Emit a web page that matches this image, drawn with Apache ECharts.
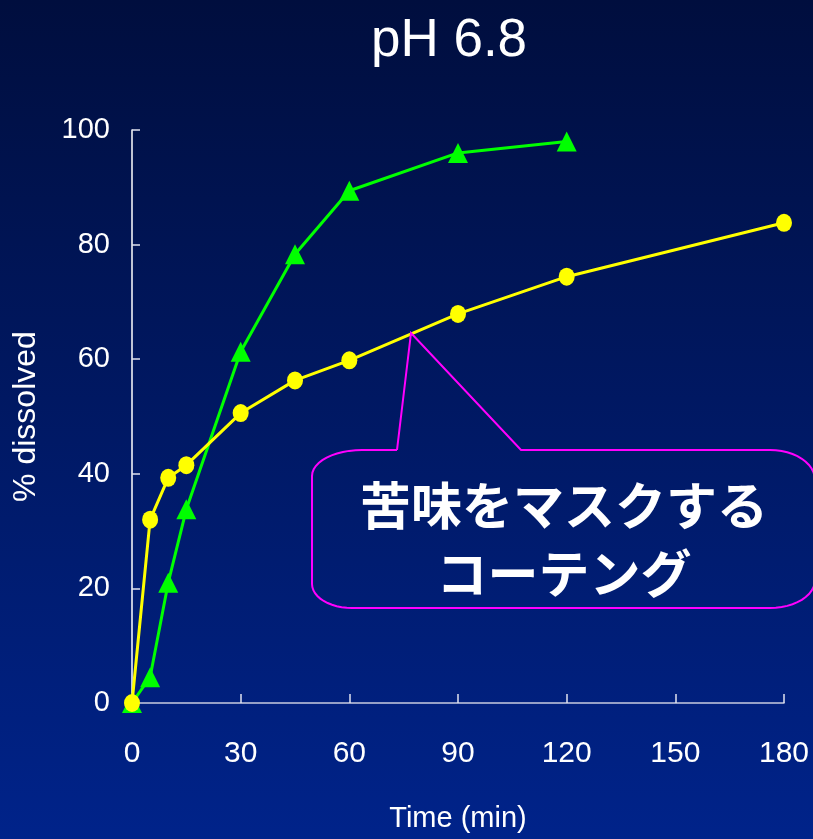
<!DOCTYPE html>
<html>
<head>
<meta charset="utf-8">
<script src="https://cdn.jsdelivr.net/npm/echarts@6/dist/echarts.min.js"></script>
<style>
  html, body { margin: 0; padding: 0; }
  #chart { width: 813px; height: 839px; }
</style>
</head>
<body>
<div id="chart"></div>
<script>
// Dissolution profile at pH 6.8
const timePoints = [0, 5, 10, 15, 30, 45, 60, 90, 120, 180];
const uncoated = [0, 4.5, 21, 33.8, 61.3, 78.3, 89.4, 96, 98];        // green triangles
const coated = [0, 32, 39.3, 41.5, 50.6, 56.3, 59.8, 67.9, 74.4, 83.8]; // yellow circles
const xTicks = [0, 30, 60, 90, 120, 150, 180];
const yTicks = [0, 20, 40, 60, 80, 100];
const calloutLines = ['苦味をマスクする', 'コーテング'];

const pairs = (ys) => ys.map((v, i) => [timePoints[i], v]);

// Quarter-ellipse corner points for the speech-bubble outline
function arc(cx, cy, rx, ry, a0, a1) {
  const pts = [];
  const n = 12;
  for (let i = 0; i <= n; i++) {
    const a = (a0 + (a1 - a0) * i / n) * Math.PI / 180;
    pts.push([cx + rx * Math.cos(a), cy + ry * Math.sin(a)]);
  }
  return pts;
}
const bubble = [
  [397, 450], [411, 333], [521, 450]
].concat(
  arc(770, 480, 45, 30, -90, 0),
  arc(770, 580, 45, 28, 0, 90),
  arc(352, 584, 40, 24, 90, 180),
  arc(362, 476, 50, 26, 180, 270),
  [[397, 450]]
);

const chart = echarts.init(document.getElementById('chart'));
chart.setOption({
  backgroundColor: {
    type: 'linear', x: 0, y: 0, x2: 0, y2: 1,
    colorStops: [
      { offset: 0, color: '#000e3e' },
      { offset: 1, color: '#00238a' }
    ]
  },
  animation: false,
  title: {
    text: 'pH 6.8',
    left: 444, top: 10, textAlign: 'center',
    textStyle: { color: '#ffffff', fontSize: 53, fontWeight: 'normal', fontFamily: 'Liberation Sans' }
  },
  grid: { left: 132, right: 29, top: 130, bottom: 136, containLabel: false, outerBoundsMode: 'none' },
  xAxis: {
    type: 'value', min: xTicks[0], max: xTicks[xTicks.length - 1], interval: 30,
    name: 'Time (min)', nameLocation: 'middle', nameGap: 101,
    nameTextStyle: { color: '#ffffff', fontSize: 29, fontFamily: 'Liberation Sans' },
    axisLine: { show: true, lineStyle: { color: '#c8cbe0', width: 1.5 } },
    axisTick: { show: true, inside: true, length: 9, lineStyle: { color: '#e0e2f0', width: 1.5 } },
    axisLabel: { color: '#ffffff', fontSize: 30, fontFamily: 'Liberation Sans', margin: 36 },
    splitLine: { show: false }
  },
  yAxis: {
    type: 'value', min: yTicks[0], max: yTicks[yTicks.length - 1], interval: 20,
    name: '% dissolved', nameLocation: 'middle', nameGap: 90, nameRotate: 90,
    nameTextStyle: { color: '#ffffff', fontSize: 32, fontFamily: 'Liberation Sans' },
    axisLine: { show: true, lineStyle: { color: '#ffffff', width: 1.5 } },
    axisTick: { show: true, inside: true, length: 8, lineStyle: { color: '#e0e2f0', width: 1.5 } },
    axisLabel: { color: '#ffffff', fontSize: 29, fontFamily: 'Liberation Sans', margin: 22 },
    splitLine: { show: false }
  },
  series: [
    {
      type: 'line', data: pairs(uncoated),
      symbol: 'triangle', symbolSize: 20,
      lineStyle: { color: '#00ff00', width: 3 },
      itemStyle: { color: '#00ff00' },
      z: 2
    },
    {
      type: 'line', data: pairs(coated),
      symbol: 'circle', symbolSize: [16, 18],
      lineStyle: { color: '#ffff00', width: 3 },
      itemStyle: { color: '#ffff00' },
      z: 3
    }
  ],
  graphic: [
    {
      type: 'polyline', z: 10,
      shape: { points: bubble },
      style: { fill: null, stroke: '#ff00ff', lineWidth: 2 }
    },
    {
      type: 'text', z: 11, x: 564, y: 540,
      style: {
        text: calloutLines.join('\n'),
        align: 'center', verticalAlign: 'middle',
        fill: '#ffffff', font: 'bold 51px "Noto Sans CJK JP"', lineHeight: 68
      }
    }
  ]
});
</script>
</body>
</html>
